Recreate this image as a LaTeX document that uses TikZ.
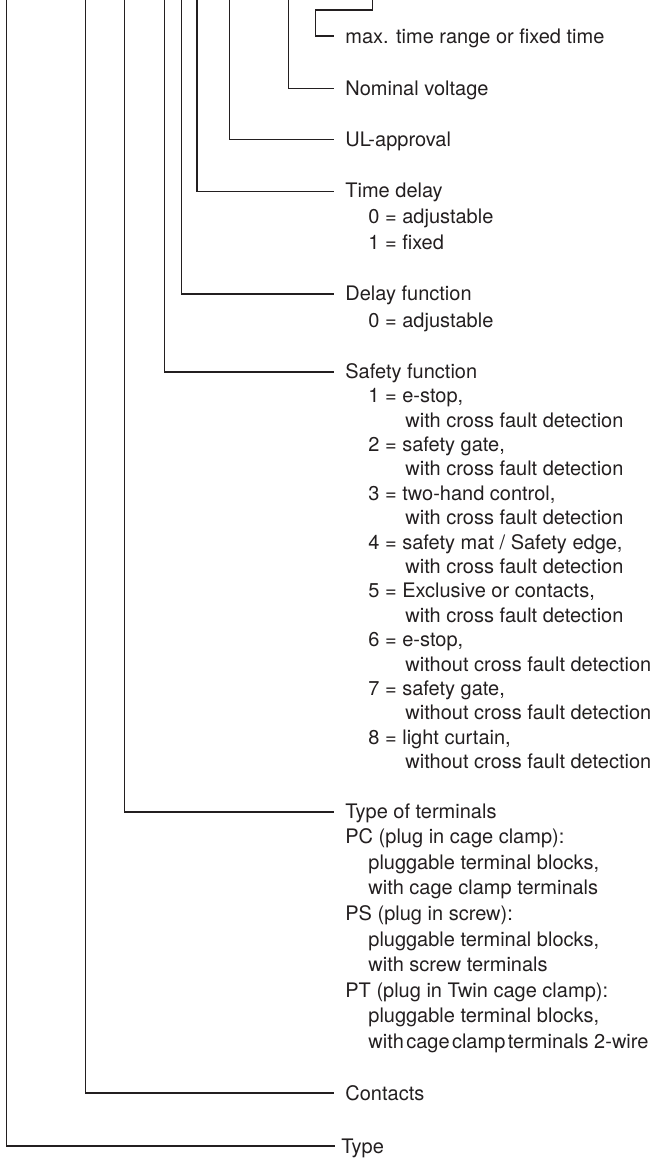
\documentclass[tikz,border=0pt]{standalone}
\usepackage{fontspec}
\setmainfont{TeX Gyre Heros}
\usetikzlibrary{positioning}
\definecolor{inkgrey}{HTML}{231F20}
\newcommand{\valind}{\hspace*{11.5pt}}
\newcommand{\contind}{\hspace*{30pt}}
\newcommand{\tsp}{\hspace{1.2pt}}

\begin{document}
\begin{tikzpicture}[x=0.5pt,y=-0.5pt,
  lead/.style={draw=inkgrey,line width=0.65pt},
  lbl/.style={anchor=north west,align=left,inner xsep=5.5pt,inner ysep=0pt,
    text=inkgrey,font=\fontsize{10}{#1}\selectfont,
    execute at begin node={\rule{0pt}{8pt}}},
  lbl/.default=12.8pt]
  \useasboundingbox (0,0) rectangle (656,1158);

  % labels (top of each node sits 9 above its leader)
  \node[lbl] (maxt) at (334,27) {max. time range or fixed time};
  \node[lbl] (nom) at (334,79.5) {Nominal voltage};
  \node[lbl] (ul) at (334,130.5) {UL-approval};
  \node[lbl=13pt] (td) at (334,182.5) {Time delay\\
    \valind 0 = adjustable\\
    \valind 1 = fixed};
  \node[lbl=13.5pt] (df) at (334,285) {Delay function\\
    \valind 0 = adjustable};
  \node[lbl=12.2pt] (sf) at (334,363) {Safety function\\
    \valind 1 = e-stop,\\
    \contind with cross fault detection\\
    \valind 2 = safety gate,\\
    \contind with cross fault detection\\
    \valind 3 = two-hand control,\\
    \contind with cross fault detection\\
    \valind 4 = safety mat / Safety edge,\\
    \contind with cross fault detection\\
    \valind 5 = Exclusive or contacts,\\
    \contind with cross fault detection\\
    \valind 6 = e-stop,\\
    \contind without cross fault detection\\
    \valind 7 = safety gate,\\
    \contind without cross fault detection\\
    \valind 8 = light curtain,\\
    \contind without cross fault detection};
  \node[lbl] (tt) at (334,803) {Type of terminals\\
    PC (plug in cage clamp):\\
    \valind pluggable terminal blocks,\\
    \valind with cage clamp terminals\\
    PS (plug in screw):\\
    \valind pluggable terminal blocks,\\
    \valind with screw terminals\\
    PT (plug in Twin cage clamp):\\
    \valind pluggable terminal blocks,\\
    \valind with\tsp cage\tsp clamp\tsp terminals 2-wire};
  \node[lbl] (con) at (334,1084) {Contacts};
  \node[lbl,inner xsep=3pt] (typ) at (335,1137) {Type};

  % leaders coming down from the code above
  \foreach \n/\x in {nom/288.7, ul/229.3, td/197, df/181.7, sf/164.7,
      tt/124.3, con/85.3, typ/6.7} {
    \coordinate (top-\n) at (\x,0);
    \draw[lead] (top-\n) |- ([yshift=-4.5pt]\n.north west);
  }
  \coordinate (top-maxt) at (372.3,0);
  \coordinate (kink) at (315.3,10);
  \draw[lead] (top-maxt) |- (kink) |- ([yshift=-4.5pt]maxt.north west);
\end{tikzpicture}
\end{document}
